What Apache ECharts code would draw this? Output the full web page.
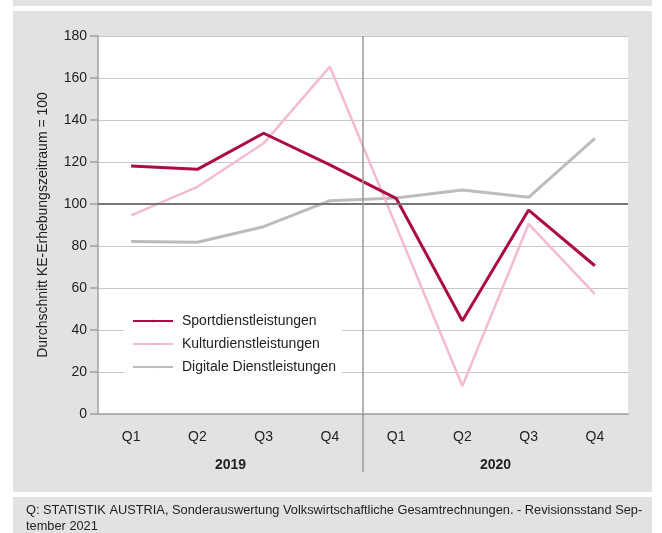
<!DOCTYPE html>
<html lang="de">
  <head>
    <meta charset="utf-8" />
    <title>Sport- und Kulturdienstleistungen</title>
    <script src="https://cdn.jsdelivr.net/npm/echarts@6/dist/echarts.min.js"></script>
    <style>
      html, body { margin: 0; padding: 0; background: #fff; }
    </style>
  </head>
  <body>
    <div id="main" style="width: 662px; height: 533px;"></div>
    <script type="text/javascript">
      // quarters per year, two years side by side
      const quarters = ['Q1', 'Q2', 'Q3', 'Q4', 'Q1', 'Q2', 'Q3', 'Q4'];
      const years = ['2019', '2020'];

      const sport = [118.1, 116.5, 133.7, 118.6, 102.7, 44.4, 97.1, 70.6];
      const kultur = [94.6, 108.2, 128.9, 165.4, 89.5, 13.3, 90.5, 57.1];
      const digital = [82.1, 81.8, 89.2, 101.6, 102.9, 106.7, 103.2, 131.3];

      const yearBreak = 3.5; // between 2019 Q4 and 2020 Q1
      const baseLine = 100;

      const font = '"Liberation Sans", Arial, sans-serif';
      const panel = '#e1e2e4';

      const myChart = echarts.init(document.getElementById('main'));

      const option = {
        animation: false,
        textStyle: { fontFamily: font, color: '#222' },
        graphic: [
          { type: 'rect', z: -10, shape: { x: 13, y: 0, width: 639, height: 6 }, style: { fill: panel } },
          { type: 'rect', z: -10, shape: { x: 13, y: 11, width: 639, height: 481 }, style: { fill: panel } },
          { type: 'rect', z: -10, shape: { x: 13, y: 497, width: 639, height: 40 }, style: { fill: panel } },
          {
            type: 'text', left: 26, top: 502,
            style: {
              text: 'Q: STATISTIK AUSTRIA, Sonderauswertung Volkswirtschaftliche Gesamtrechnungen. - Revisionsstand Sep-\ntember 2021',
              font: '12.8px ' + font, fill: '#222', lineHeight: 16
            }
          }
        ],
        legend: {
          orient: 'vertical',
          left: 124, top: 309,
          backgroundColor: '#fff',
          padding: [5, 6, 5, 8],
          itemWidth: 40, itemHeight: 3,
          itemGap: 9,
          textStyle: { fontSize: 14, color: '#222', fontFamily: font, padding: [0, 0, 0, 4] },
          data: ['Sportdienstleistungen', 'Kulturdienstleistungen', 'Digitale Dienstleistungen']
        },
        grid: [
          { left: 98, right: 34, top: 36, bottom: 119, show: true, backgroundColor: '#fff', borderWidth: 0 },
          { left: 98, right: 34, top: 36, bottom: 61, show: false }
        ],
        xAxis: [
          {
            type: 'category', gridIndex: 0, data: quarters, position: 'bottom',
            axisLine: { lineStyle: { color: '#a0a0a0', width: 1.5 } },
            axisTick: { alignWithLabel: true, length: 8, lineStyle: { color: '#a0a0a0', width: 1.5 } },
            axisLabel: { fontSize: 14, color: '#222', margin: 16, fontFamily: font }
          },
          {
            type: 'category', gridIndex: 0, data: years, position: 'bottom',
            axisLine: { show: false }, axisTick: { show: false },
            axisLabel: { fontSize: 14, fontWeight: 'bold', color: '#222', margin: 44, fontFamily: font }
          },
          { type: 'value', gridIndex: 1, min: -0.5, max: 7.5, show: false }
        ],
        yAxis: [
          {
            type: 'value', gridIndex: 0, min: 0, max: 180, interval: 20,
            name: 'Durchschnitt KE-Erhebungszeitraum = 100',
            nameLocation: 'middle', nameGap: 48, nameRotate: 90,
            nameTextStyle: { fontSize: 14, color: '#222', fontFamily: font },
            axisLine: { show: true, lineStyle: { color: '#a0a0a0', width: 1.5 } },
            axisTick: { show: true, length: 8, lineStyle: { color: '#a0a0a0', width: 1.5 } },
            axisLabel: { fontSize: 14, color: '#222', margin: 11, fontFamily: font },
            splitLine: { lineStyle: { color: '#c8c8c8', width: 1 } }
          },
          { type: 'value', gridIndex: 1, min: 0, max: 1, show: false }
        ],
        series: [
          {
            type: 'line', xAxisIndex: 0, yAxisIndex: 0, data: [], z: 1, silent: true,
            markLine: {
              silent: true, symbol: ['none', 'none'], label: { show: false },
              lineStyle: { color: '#777', type: 'solid', width: 2 },
              data: [{ yAxis: baseLine }]
            }
          },
          {
            type: 'line', xAxisIndex: 2, yAxisIndex: 1, data: [], z: 1, silent: true,
            markLine: {
              silent: true, symbol: ['none', 'none'], label: { show: false },
              lineStyle: { color: '#999', type: 'solid', width: 1.5 },
              data: [{ xAxis: yearBreak }]
            }
          },
          {
            name: 'Digitale Dienstleistungen', type: 'line', data: digital, z: 3,
            symbol: 'none', lineStyle: { color: '#bcbcbe', width: 3 }, itemStyle: { color: '#bcbcbe' }
          },
          {
            name: 'Kulturdienstleistungen', type: 'line', data: kultur, z: 3,
            symbol: 'none', lineStyle: { color: '#f5bccb', width: 2.5 }, itemStyle: { color: '#f5bccb' }
          },
          {
            name: 'Sportdienstleistungen', type: 'line', data: sport, z: 4,
            symbol: 'none', lineStyle: { color: '#ac0a40', width: 3 }, itemStyle: { color: '#ac0a40' }
          }
        ]
      };
      myChart.setOption(option);
    </script>
  </body>
</html>
